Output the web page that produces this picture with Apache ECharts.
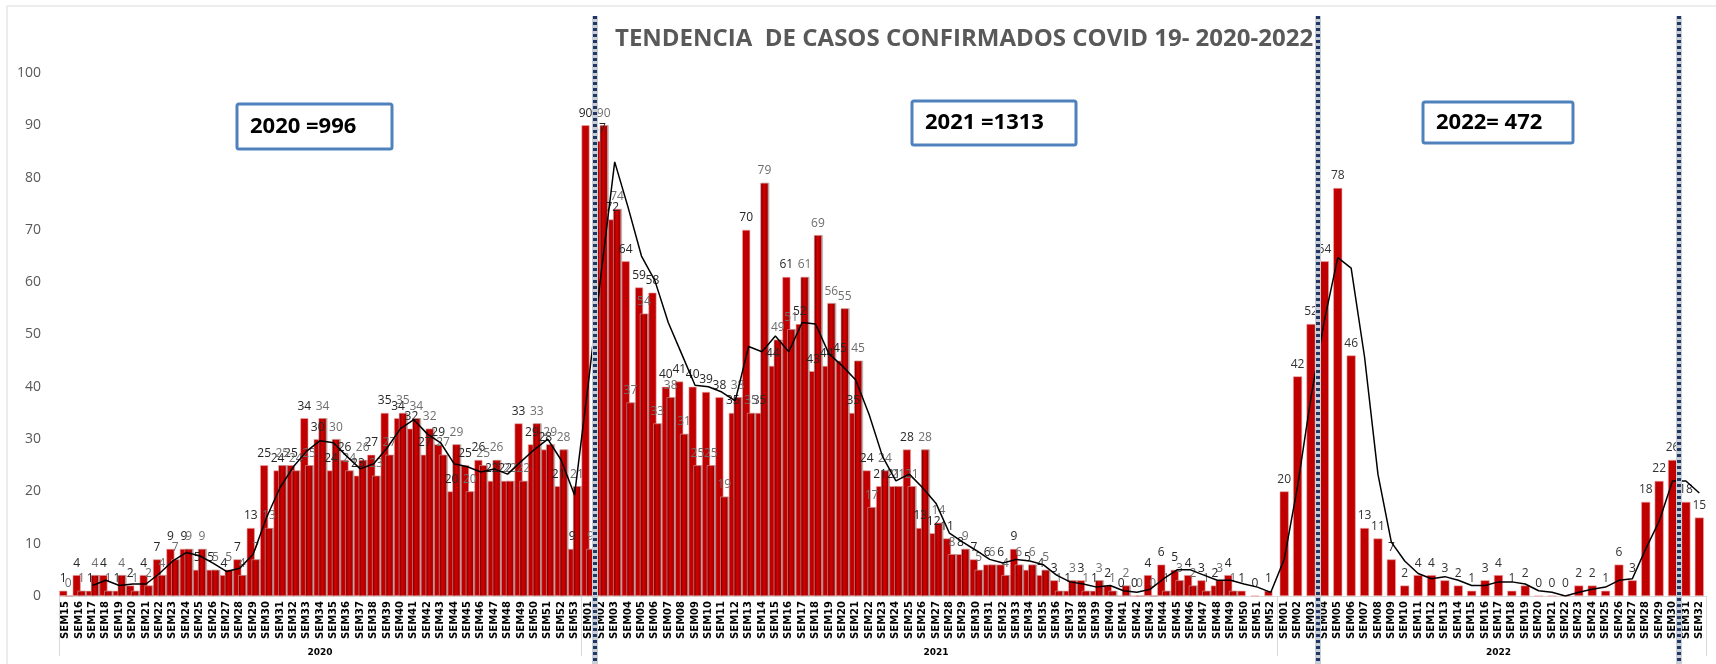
<!DOCTYPE html>
<html>
<head>
<meta charset="utf-8">
<title>Tendencia de casos confirmados COVID 19</title>
<script src="https://cdn.jsdelivr.net/npm/echarts@6.0.0/dist/echarts.min.js"></script>
<style>
  html, body { margin: 0; padding: 0; background: #fff; }
  #chart { width: 1716px; height: 664px; }
</style>
</head>
<body>
<div id="chart"></div>
<script>
// semanas epidemiologicas de cada año
var semanas2020 = ["SEM15","SEM16","SEM17","SEM18","SEM19","SEM20","SEM21","SEM22","SEM23","SEM24",
  "SEM25","SEM26","SEM27","SEM28","SEM29","SEM30","SEM31","SEM32","SEM33","SEM34","SEM35","SEM36",
  "SEM37","SEM38","SEM39","SEM40","SEM41","SEM42","SEM43","SEM44","SEM45","SEM46","SEM47","SEM48",
  "SEM49","SEM50","SEM51","SEM52","SEM53"];
var semanas2021 = ["SEM01","SEM02","SEM03","SEM04","SEM05","SEM06","SEM07","SEM08","SEM09","SEM10",
  "SEM11","SEM12","SEM13","SEM14","SEM15","SEM16","SEM17","SEM18","SEM19","SEM20","SEM21","SEM22",
  "SEM23","SEM24","SEM25","SEM26","SEM27","SEM28","SEM29","SEM30","SEM31","SEM32","SEM33","SEM34",
  "SEM35","SEM36","SEM37","SEM38","SEM39","SEM40","SEM41","SEM42","SEM43","SEM44","SEM45","SEM46",
  "SEM47","SEM48","SEM49","SEM50","SEM51","SEM52"];
var semanas2022 = ["SEM01","SEM02","SEM03","SEM04","SEM05","SEM06","SEM07","SEM08","SEM09","SEM10",
  "SEM11","SEM12","SEM13","SEM14","SEM15","SEM16","SEM17","SEM18","SEM19","SEM20","SEM21","SEM22",
  "SEM23","SEM24","SEM25","SEM26","SEM27","SEM28","SEM29","SEM30","SEM31","SEM32"];

// casos confirmados por semana (barra lisa)
var casos2020 = [1,4,1,4,1,2,4,7,9,9,5,5,4,7,13,25,24,25,34,30,24,26,23,27,35,34,32,27,29,20,25,26,22,22,33,29,28,21,9];
var casos2021 = [90,87,72,64,59,58,40,41,40,39,38,35,70,35,44,61,52,43,44,45,35,24,21,21,28,13,12,11,8,7,
  6,6,9,5,4,3,1,3,1,2,0,0,4,6,5,4,3,2,4,1,0,1];
var casos2022 = [20,42,52,64,78,46,13,11,7,2,4,4,3,2,1,3,4,1,2,0,0,0,2,2,1,6,3,18,22,26,18,15];

// segunda serie (barra 3D)
var serie2_2020 = [0,1,4,1,4,1,2,4,7,9,9,5,5,4,7,13,25,24,25,34,30,24,26,23,27,35,34,32,27,29,20,25,26,22,22,33,29,28,21];
var serie2_2021 = [9,90,74,37,54,33,38,31,25,25,19,38,35,79,49,51,61,69,56,55,45,17,24,21,21,28,14,8,9,5,
  6,4,6,6,5,1,3,1,3,1,2,0,0,1,3,2,1,3,1,null,null,null];

// linea de tendencia (promedio movil)
var prom2020 = [null,null,2,3,2,2.3,2.3,4.3,6.7,8.3,7.7,6.3,4.7,5.3,8,15,20.7,24.7,27.7,29.7,29.3,26.7,
  24.3,25.3,28.3,32,33.7,31,29.3,25.3,24.7,23.7,24.3,23.3,25.7,28,30,26,19.3];
var prom2021 = [40,62,83,74.3,65,60.3,52.3,46.3,40.3,40,39,37.3,47.7,46.7,49.7,46.7,52.3,52,46.3,44,41.3,
  34.7,26.7,22,23.3,20.7,17.7,12,10.3,8.7,7,6.3,7,6.7,6,4,2.7,2.3,1.7,2,1,0.7,1.3,3.3,5,5,4,3,3,2.3,1.7,0.7];
var prom2022 = [7,21,38,52.7,64.7,62.7,45.7,23.3,10.3,6.7,4.3,3.3,3.7,3,2,2,2.7,2.7,2.3,1,0.7,0,0.7,1.3,1.7,
  3,3.3,9,14.3,22,22,19.7];

var anios = ["2020", "2021", "2022"];
var totales = ["2020 =996", "2021 =1313", "2022= 472"];

function vacio(n) { return new Array(n).fill(null); }

var categorias = semanas2020.concat(semanas2021, semanas2022);
var anioDeSemana = vacio(semanas2020.length).map(function () { return anios[0]; })
  .concat(vacio(semanas2021.length).map(function () { return anios[1]; }))
  .concat(vacio(semanas2022.length).map(function () { return anios[2]; }));
var inicio2021 = semanas2020.length;
var inicio2022 = semanas2020.length + semanas2021.length;
var limites = [0, inicio2021, inicio2022];
var centros = [Math.round(inicio2021 / 2) - 1, Math.round((inicio2021 + inicio2022) / 2), Math.floor((inicio2022 + categorias.length) / 2)];

var serieA = casos2020.concat(casos2021, vacio(semanas2022.length));
var serieB = serie2_2020.concat(serie2_2021, vacio(semanas2022.length));
var serieC = vacio(inicio2022).concat(casos2022);
var promedio = prom2020.concat(prom2021, prom2022);

var myChart = echarts.init(document.getElementById("chart"));

var etiqueta = function (color) {
  return {
    show: true,
    position: "top",
    distance: 6,
    fontSize: 12,
    fontFamily: "Open Sans",
    color: color
  };
};

var option = {
  animation: false,
  backgroundColor: "#fff",
  grid: { left: 59, right: 10, top: 73, bottom: 68 },
  xAxis: [
    {
      type: "category",
      data: categorias,
      axisLine: { lineStyle: { color: "#d9d9d9" } },
      axisTick: { show: false },
      axisLabel: {
        interval: 0,
        rotate: 90,
        margin: 5,
        fontSize: 10,
        fontWeight: "bold",
        fontFamily: "DejaVu Sans",
        color: "#000"
      }
    },
    {
      type: "category",
      data: anioDeSemana,
      position: "bottom",
      axisLine: { show: false },
      axisTick: {
        show: true,
        length: 60,
        interval: function (i) { return limites.indexOf(i) >= 0; },
        lineStyle: { color: "#d9d9d9" }
      },
      axisLabel: {
        interval: function (i) { return centros.indexOf(i) >= 0; },
        margin: 52,
        fontSize: 9,
        fontWeight: "bold",
        fontFamily: "DejaVu Sans",
        color: "#000"
      }
    }
  ],
  yAxis: {
    type: "value",
    min: 0,
    max: 100,
    interval: 10,
    axisLine: { show: false },
    axisTick: { show: false },
    splitLine: { show: false },
    axisLabel: { fontSize: 14, color: "#595959", fontFamily: "Open Sans", margin: 18 }
  },
  series: [
    {
      name: "casos",
      type: "bar",
      xAxisIndex: 0,
      data: serieA,
      barWidth: 8,
      barGap: "-40%",
      itemStyle: { color: "#c00000", borderColor: "#eba6a6", borderWidth: 0.6 },
      label: etiqueta("#262626")
    },
    {
      name: "serie 2",
      type: "bar",
      xAxisIndex: 0,
      data: serieB,
      barWidth: 8,
      itemStyle: {
        color: new echarts.graphic.LinearGradient(0, 0, 1, 0, [
          { offset: 0, color: "#7d0000" },
          { offset: 0.45, color: "#d50000" },
          { offset: 1, color: "#8a0000" }
        ]),
        borderColor: "#eaa3a3",
        borderWidth: 0.6,
        shadowColor: "rgba(0,0,0,0.25)",
        shadowOffsetX: 1
      },
      label: etiqueta("#6e6e6e")
    },
    {
      name: "casos 2022",
      type: "bar",
      xAxisIndex: 1,
      data: serieC,
      barWidth: 9,
      itemStyle: { color: "#c00000", borderColor: "#eba6a6", borderWidth: 0.6 },
      label: etiqueta("#333")
    },
    {
      name: "tendencia",
      type: "line",
      xAxisIndex: 0,
      data: promedio,
      symbol: "none",
      z: 5,
      lineStyle: { color: "#000", width: 1.5 }
    }
  ]
};

myChart.setOption(option);

// posiciones de las lineas punteadas (entre semanas) y recuadros de totales
var cortes = [inicio2021 + 0.5, inicio2022 + 2.5, inicio2022 + 29.5];
function xEntre(v) {
  var a = myChart.convertToPixel({ xAxisIndex: 0 }, Math.floor(v));
  var b = myChart.convertToPixel({ xAxisIndex: 0 }, Math.floor(v) + 1);
  return a + (b - a) * (v - Math.floor(v));
}

var graficos = [
  {
    type: "polyline",
    silent: true,
    z: 0,
    shape: { points: [[7, 800], [7, 6], [1716, 6]] },
    style: { stroke: "#d9d9d9", fill: null, lineWidth: 1 }
  },
  {
    type: "text",
    left: 615,
    top: 27,
    style: {
      text: "TENDENCIA  DE CASOS CONFIRMADOS COVID 19- 2020-2022",
      font: 'bold 24px "Open Sans"',
      fill: "#595959"
    }
  }
];

cortes.forEach(function (v) {
  var x = Math.round(xEntre(v));
  graficos.push({
    type: "line",
    silent: true,
    z: 20,
    shape: { x1: x, y1: 16, x2: x, y2: 664 },
    style: { stroke: "#c9ced6", lineWidth: 6 }
  });
  graficos.push({
    type: "line",
    silent: true,
    z: 21,
    shape: { x1: x, y1: 16, x2: x, y2: 664 },
    style: { stroke: "#1f3864", lineWidth: 4, lineDash: [3, 3] }
  });
});

var cajas = [
  { x: 237, y: 104, w: 155, h: 45 },
  { x: 912, y: 101, w: 164, h: 44 },
  { x: 1423, y: 102, w: 150, h: 41 }
];
cajas.forEach(function (c, i) {
  graficos.push({
    type: "group",
    z: 30,
    children: [
      {
        type: "rect",
        shape: { x: c.x, y: c.y, width: c.w, height: c.h, r: 2 },
        style: { fill: "#fff", stroke: "#4f81bd", lineWidth: 3 }
      },
      {
        type: "text",
        x: c.x + 13,
        y: c.y + c.h / 2,
        style: {
          text: totales[i],
          font: 'bold 22px "Open Sans"',
          fill: "#000",
          verticalAlign: "middle"
        }
      }
    ]
  });
});

myChart.setOption({ graphic: graficos });
</script>
</body>
</html>
